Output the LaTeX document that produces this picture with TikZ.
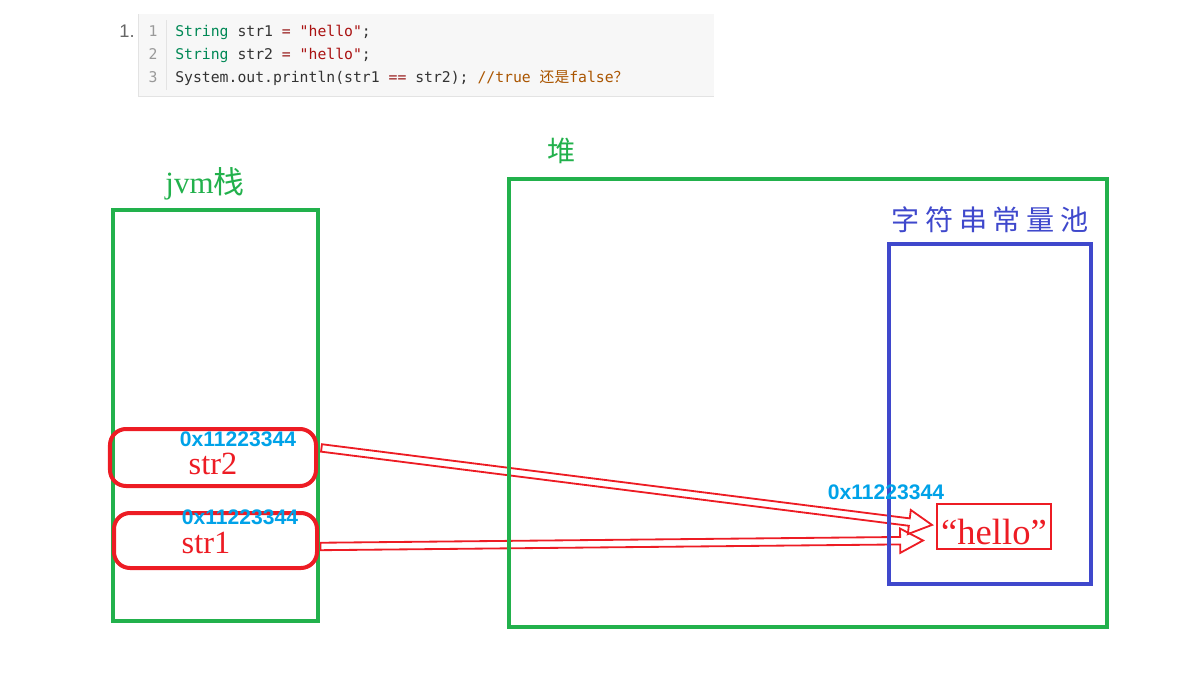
\documentclass[tikz,border=0pt]{standalone}
\usepackage{fontspec}
\setmainfont{Liberation Serif}
\setsansfont{Liberation Sans}
\setmonofont{DejaVu Sans Mono}
\newfontfamily\cjk{Noto Sans CJK SC}
\usetikzlibrary{shapes.arrows,calc,positioning,fit}
\pgfdeclarelayer{background}
\pgfsetlayers{background,main}

\definecolor{heapgreen}{HTML}{22B14C}
\definecolor{poolblue}{HTML}{3F48CC}
\definecolor{refred}{HTML}{ED1C24}
\definecolor{addrblue}{HTML}{00A2E8}
\definecolor{codebg}{HTML}{F7F7F7}
\definecolor{codeline}{HTML}{E3E3E3}
\definecolor{cmtype}{HTML}{008855}
\definecolor{cmstr}{HTML}{AA1111}
\definecolor{cmop}{HTML}{981A1A}
\definecolor{cmcomment}{HTML}{AA5500}
\definecolor{cmgutter}{HTML}{999999}

\begin{document}
\begin{tikzpicture}[x=0.025cm,y=-0.025cm,
	area/.style={draw=heapgreen,line width=2.85pt,inner sep=0pt},
	pool/.style={draw=poolblue,line width=2.85pt,inner sep=0pt},
	slot/.style={draw=refred,line width=2.85pt,rounded corners=4mm,inner sep=0pt},
	addr/.style={text=addrblue,inner sep=0pt,font=\sffamily\bfseries\fontsize{15}{17}\selectfont},
	var/.style={text=refred,inner sep=0pt,font=\fontsize{23}{26}\selectfont},
	refarrow/.style={single arrow,draw=refred,line width=1.3pt,inner sep=0pt,inner ysep=2pt,
		single arrow head extend=6pt,single arrow tip angle=56,anchor=center},
	code/.style={anchor=base west,inner sep=0pt,text=black!80,
		font=\ttfamily\fontsize{10.5}{12}\selectfont},
	lineno/.style={anchor=base,inner sep=0pt,text=cmgutter,
		font=\ttfamily\fontsize{10.5}{12}\selectfont}]
	\useasboundingbox (0,0) rectangle (1203,672);

	% code block
	\fill[codebg] (138,14) rectangle (714,96);
	\draw[codeline] (138,96.5) -- (714,96.5);
	\draw[codeline] (138,14) -- (138,96);
	\draw[codeline] (166,20) -- (166,90);
	\node[anchor=base,inner sep=0pt,text=black!60,font=\sffamily\fontsize{13}{15}\selectfont] (item) at (127,37) {1.};
	\node[lineno] (n1) at (153,36) {1};
	\node[lineno] (n2) at (153,59) {2};
	\node[lineno] (n3) at (153,82) {3};
	\node[code] (line1) at (175,36) {{\color{cmtype}String} str1 {\color{cmop}=} {\color{cmstr}"hello"};};
	\node[code] (line2) at (175,59) {{\color{cmtype}String} str2 {\color{cmop}=} {\color{cmstr}"hello"};};
	\node[code] (line3) at (175,82) {System.out.println(str1 {\color{cmop}==} str2); {\color{cmcomment}//true {\cjk 还是}false{\cjk ？}}};

	% stack and heap
	\node[area,fit={(113,210) (318,621)}] (jvm) {};
	\node[text=heapgreen,font=\fontsize{22}{24}\selectfont] (jvmlabel) at (205,184) {jvm{\cjk 栈}};
	\node[area,fit={(508.5,179) (1107,627)}] (heap) {};
	\node[text=heapgreen,font=\cjk\fontsize{20}{22}\selectfont] (heaplabel) at (562,151) {堆};

	% string pool
	\node[pool,fit={(888.5,243.5) (1090.5,583.5)}] (pool) {};
	\node[text=poolblue,font=\cjk\fontsize{20}{22}\selectfont] (poollabel) at (990,220)
		{字\hspace{4pt}符\hspace{4pt}串\hspace{4pt}常\hspace{4pt}量\hspace{4pt}池};
	\node[draw=refred,line width=2.1pt,inner sep=0pt,fit={(937,504) (1051,549)}] (hello) {};
	\node[text=refred,font=\fontsize{26}{28}\selectfont] (hellotext) at ($(hello.center)+(0,5)$) {“hello”};
	\node[addr] (addr0) at (886,492) {0x11223344};

	% references on the stack
	\node[slot,fit={(110,429) (316,486)}] (str2) {};
	\node[addr] (addr2) at (238,439) {0x11223344};
	\node[var] (name2) at (213,464) {str2};
	\node[slot,fit={(114,513) (317,568)}] (str1) {};
	\node[addr] (addr1) at (240,517) {0x11223344};
	\node[var] (name1) at (206,543) {str1};

	% both references point at the same literal
	\begin{pgfonlayer}{background}
	\path let \p1=($(str2.east)+(0,-10)$), \p2=($(hello.west)+(-7,-2)$),
		\n1={atan2(\y2-\y1,\x2-\x1)}, \n2={veclen(\x2-\x1,\y2-\y1)} in
		node[refarrow,minimum height=\n2,rotate=\n1] (ptr2) at ($(\p1)!0.5!(\p2)$) {};
	\path let \p1=($(str1.east)+(-2,6)$), \p2=($(hello.west)+(-16,14)$),
		\n1={atan2(\y2-\y1,\x2-\x1)}, \n2={veclen(\x2-\x1,\y2-\y1)} in
		node[refarrow,minimum height=\n2,rotate=\n1] (ptr1) at ($(\p1)!0.5!(\p2)$) {};
	\end{pgfonlayer}
\end{tikzpicture}
\end{document}
